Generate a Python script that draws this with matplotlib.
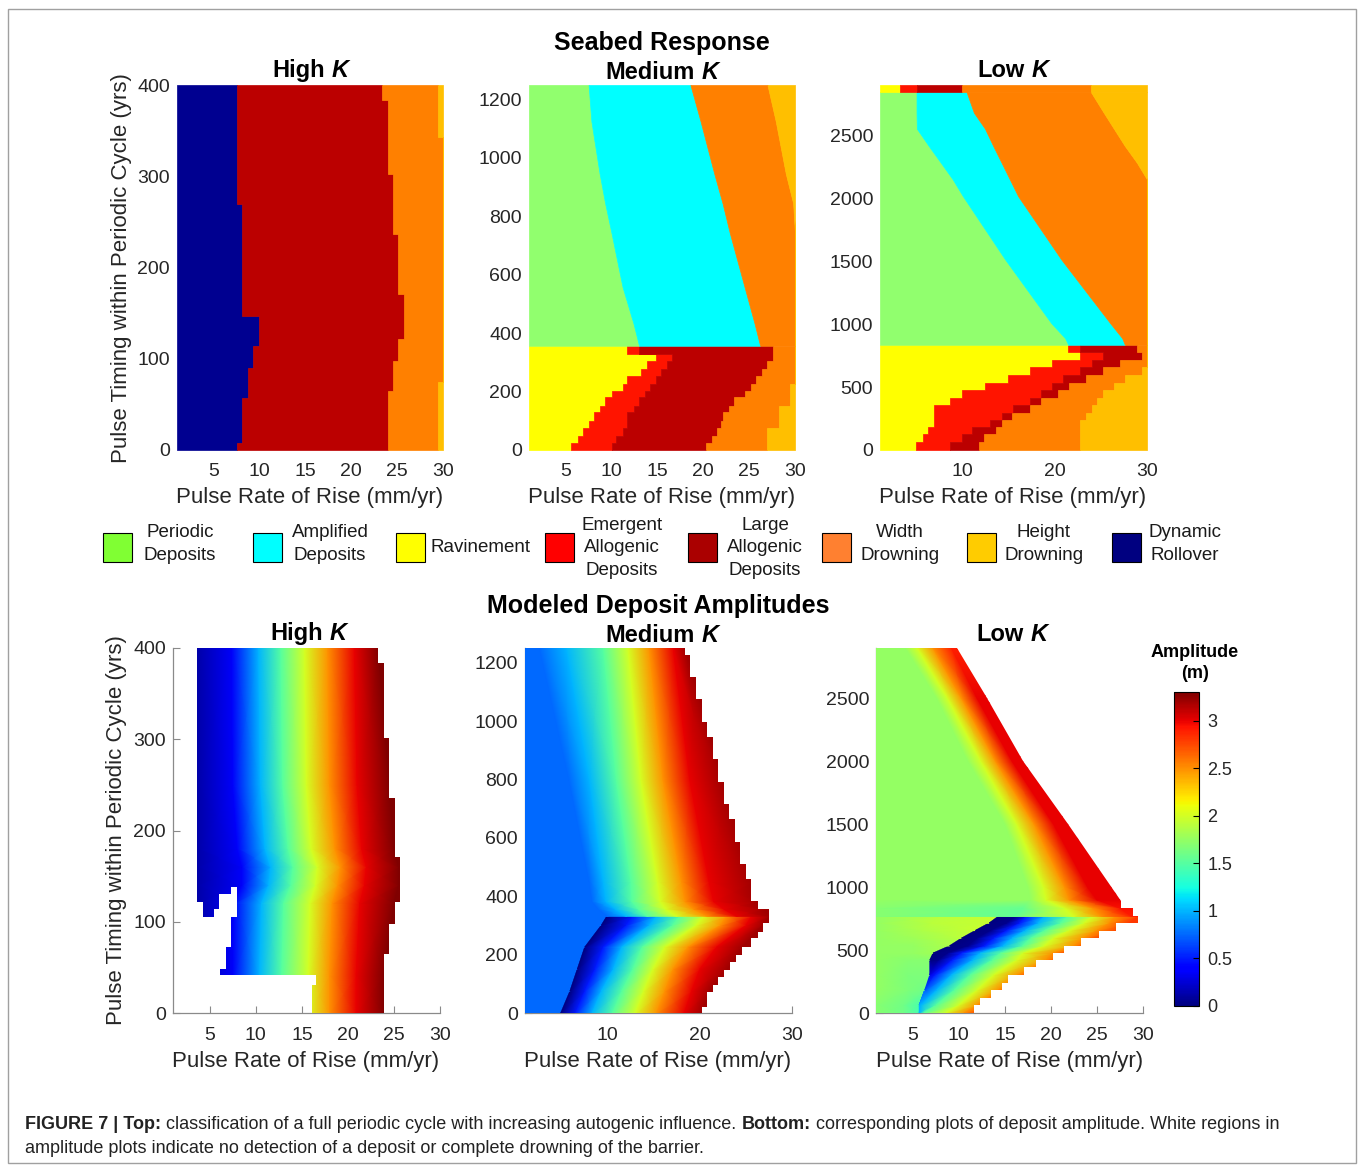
import numpy as np
import matplotlib.pyplot as plt
from matplotlib.patches import Polygon, Rectangle
from matplotlib.colors import Normalize
from matplotlib.cm import ScalarMappable

plt.rcParams['font.family'] = ['Liberation Sans', 'DejaVu Sans']

# ---------------- classes ----------------
class_keys = ['P', 'A', 'R', 'E', 'L', 'W', 'H', 'D']
class_names = ['Periodic\nDeposits', 'Amplified\nDeposits', 'Ravinement',
               'Emergent\nAllogenic\nDeposits', 'Large\nAllogenic\nDeposits',
               'Width\nDrowning', 'Height\nDrowning', 'Dynamic\nRollover']
map_colors = ['#91ff6e', '#00ffff', '#ffff00', '#ff1400', '#bb0000', '#ff8000', '#ffbf00', '#000090']
legend_colors = ['#80ff33', '#00ffff', '#ffff00', '#ff0000', '#aa0000', '#ff8030', '#ffcc00', '#000080']

# ---------------- seabed response: class boundaries (mm/yr) ----------------
# High K (one stepped band)
hk_y = [0, 8, 57, 65, 74, 90, 98, 114, 122, 147, 171, 237, 270, 302, 343, 384, 400]
hk_roll = [7.5, 8.1, 8.7, 8.7, 8.7, 9.3, 9.3, 9.9, 9.9, 8.1, 8.1, 8.1, 7.5, 7.5, 7.5, 7.5]
hk_large = [24.0, 24.0, 24.0, 24.5, 24.5, 24.5, 25.1, 25.1, 25.8, 25.8, 25.1, 24.5, 24.5, 24.0, 24.0, 23.3]
hk_width = [29.5, 29.5, 29.5, 29.5, 30, 30, 30, 30, 30, 30, 30, 30, 30, 30, 29.5, 29.5]

# Medium K
mk_up_y = [357, 432, 558, 742, 845, 946, 1126, 1250]
mk_up_per = [13.0, 12.4, 11.2, 10.0, 9.3, 8.7, 7.8, 7.5]
mk_up_amp = [26.2, 25.6, 24.5, 22.9, 22.1, 21.2, 19.7, 18.6]
mk_up_wid = [30, 30, 30, 30, 29.8, 29.0, 27.9, 27.0]
mk_lo_y = [0, 25, 49, 77, 100, 129, 152, 180, 203, 226, 254, 277, 306, 329, 357]
mk_lo_rav = [5.6, 6.3, 6.9, 7.5, 8.1, 8.7, 9.3, 10.0, 11.2, 11.7, 13.2, 13.9, 14.8, 11.7]
mk_lo_eme = [10.0, 10.5, 11.2, 11.7, 11.7, 12.4, 13.0, 13.6, 14.2, 14.8, 15.4, 16.0, 16.6, 13.0]
mk_lo_lar = [20.3, 20.9, 21.5, 21.9, 22.2, 22.8, 23.4, 24.6, 25.2, 25.8, 26.4, 27.0, 27.6, 27.6]
mk_lo_wid = [27.0, 27.0, 27.0, 28.3, 28.3, 28.3, 29.5, 29.5, 29.5, 30, 30, 30, 30, 30]

# Low K
lk_top_y = [2845, 2900]
lk_top_b = [[3.15], [4.97], [9.86], [23.88]]
lk_up_y = [836, 889, 1008, 1513, 2017, 2150, 2283, 2415, 2553, 2680, 2845]
lk_up_per = [21.45, 21.1, 19.6, 14.6, 10.0, 8.9, 7.6, 6.3, 5.0, 4.97, 4.97]
lk_up_amp = [27.6, 27.3, 26.0, 20.7, 16.0, 15.1, 14.2, 13.3, 12.4, 11.2, 10.4]
lk_up_wid = [30, 30, 30, 30, 30, 30, 28.9, 27.6, 26.4, 25.3, 23.9]
lk_lo_y = [0, 66, 125, 186, 239, 297, 358, 417, 478, 536, 597, 658, 716, 777, 836]
lk_lo_rav = [4.96, 5.62, 6.17, 6.82, 6.82, 6.82, 8.60, 9.86, 12.39, 14.85, 17.28, 19.64, 22.72, 21.45]
lk_lo_eme = [8.60, 9.86, 11.0, 12.93, 14.2, 15.47, 17.28, 18.48, 19.64, 20.9, 22.72, 23.98, 25.18, 22.72]
lk_lo_lar = [11.74, 12.32, 13.55, 14.2, 15.36, 17.28, 18.48, 20.36, 21.52, 23.33, 25.18, 27.05, 29.42, 28.87]
lk_lo_wid = [22.72, 22.72, 22.72, 22.72, 23.33, 23.98, 24.52, 25.18, 26.45, 27.6, 29.42, 30, 30, 30]

# ---------------- deposit amplitude (m): x where each level is reached ----------------
hk_amp_y = [0, 41, 120, 140, 160, 180, 250, 400]
hk_amp_z = [0.12, 0.12, 0.35, 1.0, 1.5, 2.0, 2.5, 3.0, 3.3, 3.3]
hk_amp_x = [[1, 3.65, 7.5, 10.4, 12.8, 15.7, 18.0, 20.9, 23.9, 30],
            [1, 3.65, 7.5, 10.4, 12.8, 15.7, 18.0, 20.9, 23.9, 30],
            [1, 3.65, 7.6, 10.6, 13.0, 15.9, 18.3, 21.3, 25.0, 30],
            [1, 3.65, 8.5, 11.4, 13.8, 16.5, 18.9, 21.8, 25.5, 30],
            [1, 3.65, 8.5, 11.6, 14.0, 16.7, 19.2, 22.0, 25.5, 30],
            [1, 3.65, 8.0, 11.0, 13.5, 16.0, 18.6, 21.5, 25.0, 30],
            [1, 3.65, 7.5, 10.5, 12.9, 15.5, 18.0, 21.0, 24.5, 30],
            [1, 3.65, 7.4, 10.3, 12.7, 15.3, 17.8, 20.7, 23.3, 30]]
hk_out_x = [3.65, 23.3, 23.3, 23.9, 23.9, 24.5, 24.5, 25.1, 25.1, 25.7, 25.7, 25.1, 25.1, 24.5, 24.5,
            23.9, 23.9, 16.05, 16.05, 16.55, 16.55, 6.1, 6.1, 6.75, 6.75, 7.35, 7.35, 7.9, 7.9, 7.35,
            7.35, 6.0, 6.0, 5.45, 5.45, 4.25, 4.25, 3.65]
hk_out_y = [400, 400, 384, 384, 301, 301, 236, 236, 171, 171, 122, 122, 98, 98, 65, 65, 0, 0, 30.4,
            30.4, 41.4, 41.4, 48.7, 48.7, 72.4, 72.4, 105.4, 105.4, 138.3, 138.3, 130.3, 130.3, 113.5,
            113.5, 105.4, 105.4, 121.8, 121.8]

mk_amp_up_y = [331, 356, 382, 450, 800, 1250]
mk_amp_up_z = [0.75, 0.75, 1.0, 1.5, 2.0, 2.5, 3.0, 3.2, 3.2]
mk_amp_up_x = [[1, 10.0, 12.0, 14.3, 17.5, 20.8, 24.0, 27.5, 30],
               [1, 9.0, 10.8, 13.3, 16.3, 19.3, 22.6, 27.0, 30],
               [1, 8.3, 9.8, 12.6, 15.7, 18.4, 21.5, 26.3, 30],
               [1, 8.0, 9.5, 12.5, 15.4, 18.0, 21.0, 25.8, 30],
               [1, 5.8, 8.0, 10.9, 13.6, 16.0, 18.9, 22.5, 30],
               [1, 2.6, 5.5, 9.5, 12.2, 14.5, 17.1, 18.4, 30]]
mk_amp_lo_y = [0, 75, 150, 225, 300, 331]
mk_amp_lo_z = [0.75, 0.75, 0.0, 0.5, 1.0, 1.5, 2.0, 2.5, 3.0, 3.2, 3.2]
mk_amp_lo_x = [[1, 4.9, 4.9, 6.5, 8.3, 10.5, 13.0, 15.3, 18.3, 20.2, 30],
               [1, 5.9, 5.9, 7.5, 9.3, 11.5, 13.9, 16.2, 19.1, 21.1, 30],
               [1, 6.7, 6.7, 8.6, 10.6, 12.7, 14.9, 17.1, 20.0, 23.0, 30],
               [1, 7.5, 7.5, 9.5, 11.5, 13.7, 16.2, 18.7, 21.8, 24.6, 30],
               [1, 9.3, 9.3, 12.0, 14.5, 17.0, 19.6, 22.2, 25.0, 26.8, 30],
               [1, 9.9, 9.9, 12.7, 15.3, 17.8, 20.4, 22.9, 25.6, 27.5, 30]]
mk_edge_y = [0, 21, 73, 96, 124, 147, 176, 199, 227, 256, 279, 308, 356, 382, 459, 509, 585, 663,
             715, 792, 869, 944, 996, 1076, 1151, 1225, 1250]
mk_edge_x = [20.2, 20.8, 21.4, 22.0, 22.65, 23.3, 23.9, 24.55, 25.6, 26.3, 26.9, 27.55, 26.3, 25.6,
             25.0, 24.4, 23.8, 23.2, 22.6, 22.0, 21.4, 20.8, 20.2, 19.6, 18.9, 18.35]

lk_amp_up_y = [767, 834, 900, 1000, 1500, 2000, 2500, 2900]
lk_amp_up_x = [[1, 16.0, 22.5, 25.5, 28.8, 30],
               [1, 17.0, 21.5, 24.5, 27.5, 30],
               [1, 17.8, 19.5, 22.0, 25.0, 30],
               [1, 17.5, 19.2, 21.5, 24.0, 30],
               [1, 15.0, 16.3, 18.2, 20.3, 30],
               [1, 11.0, 12.4, 14.0, 15.8, 30],
               [1, 7.6, 8.8, 10.3, 12.0, 30],
               [1, 4.2, 5.5, 7.2, 9.2, 30]]
lk_amp_up_z = [[1.7, 1.55, 2.0, 2.5, 2.9, 2.9],
               [1.7, 1.55, 2.0, 2.5, 2.95, 2.95],
               [1.75, 1.75, 2.0, 2.5, 3.0, 3.0],
               [1.75, 1.75, 2.0, 2.5, 3.0, 3.0],
               [1.75, 1.75, 2.0, 2.5, 3.0, 3.0],
               [1.75, 1.75, 2.0, 2.5, 3.0, 3.0],
               [1.75, 1.75, 2.0, 2.5, 3.0, 3.0],
               [1.75, 1.75, 2.0, 2.5, 2.9, 2.9]]
lk_amp_lo_y = [0, 62, 182, 302, 421, 475, 533, 594, 655, 714, 767]
lk_amp_lo_x = [[1, 4.0, 5.7, 5.7, 5.7, 5.7, 5.7, 6.2, 8.6, 10.6, 12.5, 30],
               [1, 4.0, 5.7, 5.7, 5.7, 5.7, 5.9, 7.5, 10.0, 12.0, 13.5, 30],
               [1, 4.5, 6.3, 6.3, 6.3, 6.4, 7.6, 9.5, 12.0, 14.3, 15.5, 30],
               [1, 4.5, 6.85, 6.85, 6.85, 7.4, 9.2, 11.2, 13.8, 16.4, 18.0, 30],
               [1, 4.5, 6.85, 6.85, 7.8, 9.3, 11.5, 13.6, 16.3, 19.5, 21.0, 30],
               [1, 5.0, 7.2, 7.2, 8.8, 10.3, 12.3, 14.5, 17.0, 20.2, 22.0, 30],
               [1, 5.0, 9.0, 9.0, 11.0, 12.8, 14.8, 16.9, 19.3, 22.5, 24.0, 30],
               [1, 5.5, 10.3, 10.3, 12.0, 13.8, 15.8, 17.8, 20.3, 23.5, 25.5, 30],
               [1, 6.0, 11.8, 11.8, 13.5, 15.2, 17.2, 19.3, 22.0, 25.0, 27.5, 30],
               [1, 7.0, 13.3, 13.3, 15.2, 16.6, 18.6, 21.0, 23.6, 26.3, 28.5, 30],
               [1, 8.0, 14.3, 14.3, 16.2, 17.3, 19.3, 21.8, 24.6, 27.0, 29.5, 30]]
lk_amp_lo_zleft = [[1.7, 1.6, 1.45], [1.7, 1.6, 1.45], [1.75, 1.65, 1.6], [1.75, 1.65, 1.65],
                   [1.75, 1.7, 1.7], [1.75, 1.75, 1.8], [1.75, 1.75, 1.85], [1.75, 1.8, 1.9],
                   [1.75, 1.85, 1.95], [1.75, 1.9, 1.95], [1.75, 1.9, 1.95]]
lk_amp_lo_zright = [[1.0, 1.0, 1.0, 1.0, 1.5, 2.0, 2.5, 2.8, 2.8],
                    [1.0, 1.0, 1.0, 1.0, 1.5, 2.0, 2.5, 2.8, 2.8],
                    [0.7, 0.7, 0.7, 1.0, 1.5, 2.0, 2.5, 2.8, 2.8],
                    [0.3, 0.3, 0.5, 1.0, 1.5, 2.0, 2.5, 2.8, 2.8],
                    [0.0, 0.05, 0.5, 1.0, 1.5, 2.0, 2.5, 2.8, 2.8],
                    [0.0, 0.05, 0.5, 1.0, 1.5, 2.0, 2.5, 2.8, 2.8],
                    [0.0, 0.05, 0.5, 1.0, 1.5, 2.0, 2.5, 2.8, 2.8],
                    [0.0, 0.05, 0.5, 1.0, 1.5, 2.0, 2.5, 2.8, 2.8],
                    [0.0, 0.05, 0.5, 1.0, 1.5, 2.0, 2.5, 2.8, 2.8],
                    [0.0, 0.05, 0.5, 1.0, 1.5, 2.0, 2.5, 2.8, 2.8],
                    [0.0, 0.05, 0.5, 1.0, 1.5, 2.0, 2.5, 2.8, 2.8]]
lk_edge_y = [0, 62, 123, 182, 235, 302, 363, 421, 475, 533, 594, 655, 714, 767, 834, 888]
lk_edge_x = [11.64, 12.3, 13.46, 14.73, 15.38, 17.09, 18.36, 20.18, 21.45, 23.27, 25.2, 27.1, 29.46, 28.91, 27.64]
lk_diag_x = [21.8, 17.0, 13.1, 9.83]
lk_diag_y = [1500, 2000, 2500, 2900]

# ---------------- figure ----------------
W, H = 1358, 1165
fig = plt.figure(figsize=(W / 100, H / 100), dpi=100)
TXT = '#262626'
norm = Normalize(0, 3.3)
cmap = plt.get_cmap('jet')


def add_ax(l, t, r, b):
    return fig.add_axes([l / W, 1 - b / H, (r - l) / W, (b - t) / H])


def fill_band(ax, y, bounds, keys, step):
    y = np.asarray(y, float)
    if step:
        bounds = [list(b) + [b[-1]] for b in bounds]
    n = len(y)
    cols = [np.full(n, 1.0)] + [np.asarray(b, float) for b in bounds] + [np.full(n, 30.0)]
    for i, k in enumerate(keys):
        c = map_colors[class_keys.index(k)]
        ax.fill_betweenx(y, cols[i], cols[i + 1], step='post' if step else None,
                         facecolor=c, edgecolor=c, lw=0.5)


def amp_band(ax, y, X, Z, clip):
    X = np.asarray(X, float)
    Y = np.repeat(np.asarray(y, float)[:, None], X.shape[1], axis=1)
    Z = np.array(np.broadcast_to(np.asarray(Z, float), X.shape))
    m = ax.pcolormesh(X, Y, Z, shading='gouraud', cmap=cmap, norm=norm)
    m.set_clip_path(clip)


def stair(yb, xs):
    v = []
    for i, x in enumerate(xs):
        v += [(x, yb[i]), (x, yb[i + 1])]
    return v


def style_top(ax, ymax, xt, yt):
    ax.set_xlim(1, 30)
    ax.set_ylim(0, ymax)
    for s in ax.spines.values():
        s.set_visible(False)
    ax.set_xticks(xt)
    ax.set_yticks(yt)
    ax.tick_params(length=0, labelsize=14, labelcolor=TXT)
    ax.tick_params(axis='x', pad=9)
    ax.tick_params(axis='y', pad=5)


def style_bottom(ax, ymax, xt, yt):
    ax.set_xlim(1, 30)
    ax.set_ylim(0, ymax)
    ax.spines['top'].set_visible(False)
    ax.spines['right'].set_visible(False)
    for s in ('left', 'bottom'):
        ax.spines[s].set_color('#8a8a8a')
        ax.spines[s].set_linewidth(0.9)
        ax.spines[s].set_zorder(0.5)
    ax.set_axisbelow(True)
    ax.set_xticks(xt)
    ax.set_yticks(yt)
    ax.tick_params(direction='in', length=5, width=0.8, color='#8a8a8a', labelsize=14, labelcolor=TXT)
    ax.tick_params(axis='x', pad=10)
    ax.tick_params(axis='y', pad=5)


# ---- top row: seabed response ----
a1 = add_ax(177, 85, 443, 450)
fill_band(a1, hk_y, [hk_roll, hk_large, hk_width], ['D', 'L', 'W', 'H'], True)
style_top(a1, 400, range(5, 31, 5), range(0, 401, 100))

a2 = add_ax(529, 85, 795, 450)
fill_band(a2, mk_lo_y, [mk_lo_rav, mk_lo_eme, mk_lo_lar, mk_lo_wid], ['R', 'E', 'L', 'W', 'H'], True)
fill_band(a2, mk_up_y, [mk_up_per, mk_up_amp, mk_up_wid], ['P', 'A', 'W', 'H'], False)
style_top(a2, 1250, range(5, 31, 5), range(0, 1201, 200))

a3 = add_ax(880, 85, 1147, 450)
fill_band(a3, lk_lo_y, [lk_lo_rav, lk_lo_eme, lk_lo_lar, lk_lo_wid], ['R', 'E', 'L', 'W', 'H'], True)
fill_band(a3, lk_up_y, [lk_up_per, lk_up_amp, lk_up_wid], ['P', 'A', 'W', 'H'], False)
fill_band(a3, lk_top_y, lk_top_b, ['R', 'E', 'L', 'W', 'H'], True)
style_top(a3, 2900, [10, 20, 30], range(0, 2501, 500))

# ---- bottom row: amplitudes ----
b1 = add_ax(173, 648, 440, 1013)
clip1 = Polygon(list(zip(hk_out_x, hk_out_y)), closed=True, transform=b1.transData)
amp_band(b1, hk_amp_y, hk_amp_x, hk_amp_z, clip1)
style_bottom(b1, 400, range(5, 31, 5), range(0, 401, 100))

b2 = add_ax(525, 648, 792, 1013)
clip2 = Polygon([(1, 0)] + stair(mk_edge_y, mk_edge_x) + [(1, 1250)], closed=True, transform=b2.transData)
amp_band(b2, mk_amp_lo_y, mk_amp_lo_x, mk_amp_lo_z, clip2)
amp_band(b2, mk_amp_up_y, mk_amp_up_x, mk_amp_up_z, clip2)
style_bottom(b2, 1250, [10, 20, 30], range(0, 1201, 200))

b3 = add_ax(876, 648, 1143, 1013)
clip3 = Polygon([(1, 0)] + stair(lk_edge_y, lk_edge_x) + list(zip(lk_diag_x, lk_diag_y)) + [(1, 2900)],
                closed=True, transform=b3.transData)
lo_z = np.hstack([np.array(lk_amp_lo_zleft), np.array(lk_amp_lo_zright)])
amp_band(b3, lk_amp_lo_y, lk_amp_lo_x, lo_z, clip3)
amp_band(b3, lk_amp_up_y, lk_amp_up_x, lk_amp_up_z, clip3)
style_bottom(b3, 2900, range(5, 31, 5), range(0, 2501, 500))

# colorbar
cax = add_ax(1174, 692, 1199, 1006)
cb = fig.colorbar(ScalarMappable(norm=norm, cmap=cmap), cax=cax, ticks=[0, 0.5, 1, 1.5, 2, 2.5, 3])
cb.ax.set_yticklabels(['0', '0.5', '1', '1.5', '2', '2.5', '3'])
cb.ax.tick_params(direction='in', length=4, width=0.8, labelsize=13, labelcolor=TXT, pad=6)
cb.outline.set_linewidth(0.8)
fig.text(1195 / W, 1 - 663 / H, 'Amplitude\n(m)', ha='center', va='center', fontsize=13,
         fontweight='bold', linespacing=1.3)

# ---- axis labels ----
for xc, yc in [(310, 498), (662, 498), (1013, 498), (306, 1062), (658, 1062), (1010, 1062)]:
    fig.text(xc / W, 1 - yc / H, 'Pulse Rate of Rise (mm/yr)', ha='center', va='center',
             fontsize=16, color=TXT)
for xc, yc in [(121, 268), (117, 830)]:
    fig.text(xc / W, 1 - yc / H, 'Pulse Timing within Periodic Cycle (yrs)', ha='center', va='center',
             fontsize=16, color=TXT, rotation=90)

# ---- titles (bold, K in bold italic) ----
renderer = fig.canvas.get_renderer()


def rich(x0, ybase, parts, size, center=True, color='k'):
    gap = size * 0.278 * 100 / 72
    ts = [fig.text(0, 1 - ybase / H, s, fontsize=size, fontweight=w, fontstyle=st, color=color,
                   va='baseline', ha='left') for s, w, st in parts]
    ws = [t.get_window_extent(renderer).width for t in ts]
    x = x0 - (sum(ws) + gap * (len(ts) - 1)) / 2 if center else x0
    for t, w in zip(ts, ws):
        t.set_x(x / W)
        x += w + gap


def k_title(xc, yb, word):
    rich(xc, yb, [(word, 'bold', 'normal'), ('K', 'bold', 'italic')], 17)


rich(662, 50, [('Seabed Response', 'bold', 'normal')], 18)
k_title(310, 77, 'High')
k_title(662, 79, 'Medium')
k_title(1013, 77, 'Low')
rich(658, 613, [('Modeled Deposit Amplitudes', 'bold', 'normal')], 18)
k_title(308, 640, 'High')
k_title(662, 642, 'Medium')
k_title(1012, 641, 'Low')

# ---- legend ----
leg_patch_x = [103, 253, 396, 545, 688, 822, 967, 1112]
leg_text_x = [180, 330, 481, 622, 765, 900, 1044, 1185]
for px, tx, name, col in zip(leg_patch_x, leg_text_x, class_names, legend_colors):
    fig.add_artist(Rectangle((px / W, 1 - 562 / H), 29 / W, 29 / H, transform=fig.transFigure,
                             facecolor=col, edgecolor='k', lw=0.8))
    yc = 544 if name.count('\n') == 1 else 548
    fig.text(tx / W, 1 - yc / H, name, ha='center', va='center', fontsize=13.5,
             color='#1a1a1a', linespacing=1.4)

# ---- caption and frame ----
rich(25, 1129, [('FIGURE 7 | Top:', 'bold', 'normal'),
                ('classification of a full periodic cycle with increasing autogenic influence.', 'normal', 'normal'),
                ('Bottom:', 'bold', 'normal'),
                ('corresponding plots of deposit amplitude. White regions in', 'normal', 'normal')],
     13.0, center=False, color='#222222')
rich(25, 1153, [('amplitude plots indicate no detection of a deposit or complete drowning of the barrier.',
                 'normal', 'normal')], 13.0, center=False, color='#222222')
fig.add_artist(Rectangle((8 / W, 1 - 1163 / H), 1348 / W, 1154 / H, transform=fig.transFigure,
                         fill=False, edgecolor='#a0a0a0', lw=1))

fig.savefig('out.png', dpi=100)
